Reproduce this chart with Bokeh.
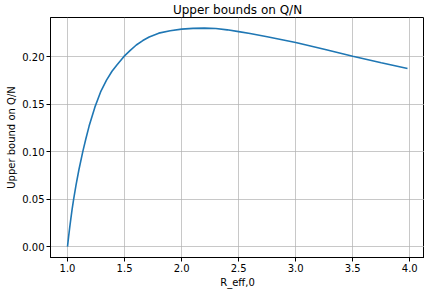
from bokeh.plotting import figure
from bokeh.models import Range1d, FixedTicker, PrintfTickFormatter
from bokeh.embed import file_html
from bokeh.resources import INLINE

# Data
r_eff = [1.000, 1.010, 1.020, 1.030, 1.040, 1.054, 1.075, 1.100, 1.135, 1.160,
         1.190, 1.240, 1.290, 1.342, 1.390, 1.433, 1.495, 1.550, 1.603, 1.660,
         1.716, 1.800, 1.900, 2.000, 2.100, 2.200, 2.300, 2.400, 2.500, 2.600,
         2.750, 3.000, 3.250, 3.500, 3.750, 3.980]
q_over_n = [0.0000, 0.0107, 0.0207, 0.0301, 0.0389, 0.0500, 0.0650, 0.0810, 0.1006, 0.1132,
            0.1273, 0.1470, 0.1630, 0.1755, 0.1848, 0.1915, 0.2005, 0.2068, 0.2125, 0.2172,
            0.2210, 0.2250, 0.2276, 0.2292, 0.2300, 0.2303, 0.2299, 0.2285, 0.2266, 0.2246,
            0.2213, 0.2152, 0.2080, 0.2006, 0.1938, 0.1877]

x_ticks = [1.0, 1.5, 2.0, 2.5, 3.0, 3.5, 4.0]
y_ticks = [0.00, 0.05, 0.10, 0.15, 0.20]

FONT = "DejaVu Sans"

p = figure(width=424, height=290, output_backend="svg", toolbar_location=None,
           title="Upper bounds on Q/N",
           x_range=Range1d(0.851, 4.129), y_range=Range1d(-0.0115, 0.2415))

p.line(r_eff, q_over_n, line_color="#1f77b4", line_width=1.6)

p.title.align = "center"
p.title.text_font = FONT
p.title.text_font_size = "12px"
p.title.text_font_style = "normal"
p.title.text_color = "black"
p.title.standoff = 1
p.title.offset = 0

p.min_border_left = 50
p.min_border_right = 0
p.min_border_top = 0
p.min_border_bottom = 0

p.outline_line_color = "black"
p.outline_line_width = 1
p.outline_line_alpha = 1
p.background_fill_color = "white"
p.border_fill_color = "white"

for ax in (p.xaxis[0], p.yaxis[0]):
    ax.axis_line_color = "black"
    ax.major_tick_line_color = "black"
    ax.major_tick_in = 0
    ax.major_tick_out = 4
    ax.minor_tick_line_color = None
    ax.major_label_text_font = FONT
    ax.major_label_text_font_size = "10px"
    ax.major_label_text_color = "black"
    ax.major_label_text_line_height = 0.9
    ax.axis_label_text_font = FONT
    ax.axis_label_text_font_size = "10px"
    ax.axis_label_text_font_style = "normal"
    ax.axis_label_text_color = "black"
    ax.axis_label_text_line_height = 0.9
    ax.axis_label_standoff = 2
    ax.major_label_standoff = 2

p.xaxis[0].ticker = FixedTicker(ticks=x_ticks)
p.yaxis[0].ticker = FixedTicker(ticks=y_ticks)
p.xaxis[0].formatter = PrintfTickFormatter(format="%.1f")
p.yaxis[0].formatter = PrintfTickFormatter(format="%.2f")
p.xaxis[0].axis_label = "R_eff,0"
p.yaxis[0].axis_label = "Upper bound on Q/N"

for g in (p.xgrid[0], p.ygrid[0]):
    g.grid_line_color = "#b0b0b0"
    g.grid_line_width = 1
    g.grid_line_alpha = 0.7
p.xgrid[0].ticker = FixedTicker(ticks=x_ticks)
p.ygrid[0].ticker = FixedTicker(ticks=y_ticks)

open("out.html", "w").write(file_html(p, INLINE))
